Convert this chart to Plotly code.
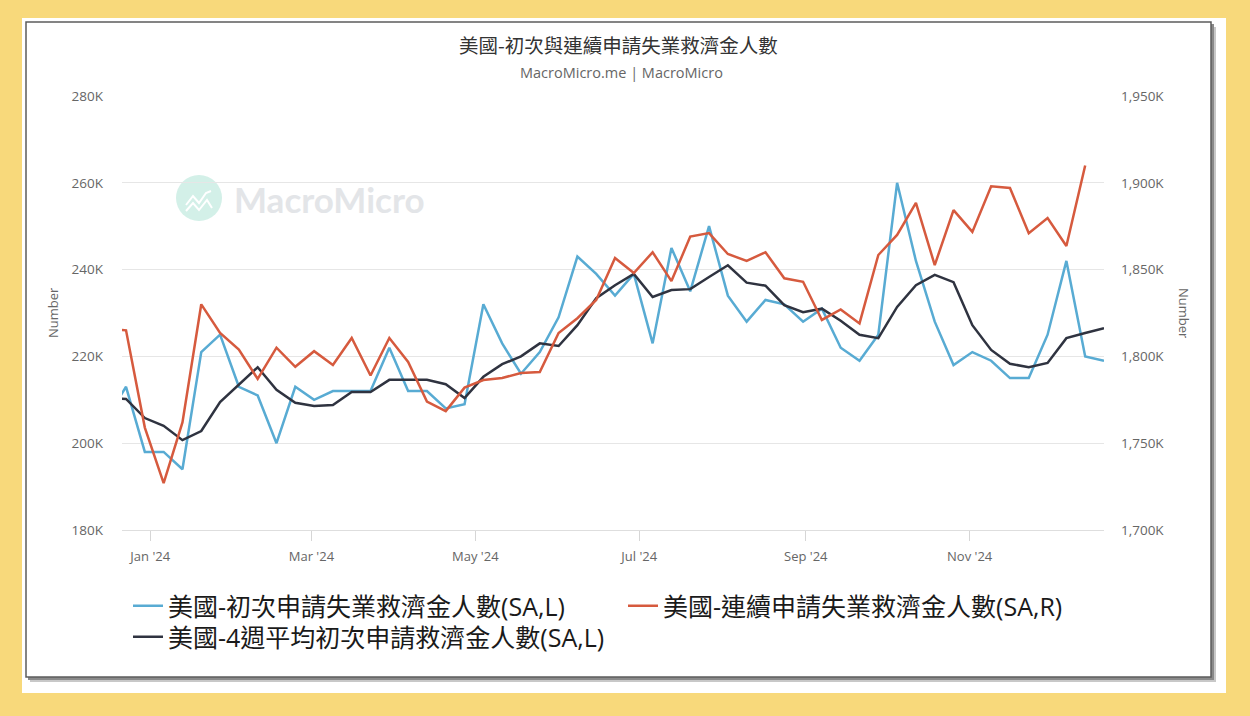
import plotly.graph_objects as go

# ---------------- data ----------------
dates_ic = [
    "2023-12-16", "2023-12-23", "2023-12-30", "2024-01-06", "2024-01-13", "2024-01-20",
    "2024-01-27", "2024-02-03", "2024-02-10", "2024-02-17", "2024-02-24", "2024-03-02",
    "2024-03-09", "2024-03-16", "2024-03-23", "2024-03-30", "2024-04-06", "2024-04-13",
    "2024-04-20", "2024-04-27", "2024-05-04", "2024-05-11", "2024-05-18", "2024-05-25",
    "2024-06-01", "2024-06-08", "2024-06-15", "2024-06-22", "2024-06-29", "2024-07-06",
    "2024-07-13", "2024-07-20", "2024-07-27", "2024-08-03", "2024-08-10", "2024-08-17",
    "2024-08-24", "2024-08-31", "2024-09-07", "2024-09-14", "2024-09-21", "2024-09-28",
    "2024-10-05", "2024-10-12", "2024-10-19", "2024-10-26", "2024-11-02", "2024-11-09",
    "2024-11-16", "2024-11-23", "2024-11-30", "2024-12-07", "2024-12-14", "2024-12-21",
]
dates_cc = dates_ic[:-1]

initial_claims = [  # thousands, left axis
    206, 213, 198, 198, 194, 221, 225, 213, 211, 200, 213, 210,
    212, 212, 212, 222, 212, 212, 208, 209, 232, 223, 216, 221,
    229, 243, 239, 234, 239, 223, 245, 235, 250, 234, 228, 233,
    232, 228, 231, 222, 219, 225, 260, 242, 228, 218, 221, 219,
    215, 215, 225, 242, 220, 219,
]
avg4w_claims = [  # thousands, left axis
    210.5, 210.2, 205.8, 204.0, 200.7, 202.8, 209.5, 213.4, 217.5, 212.3, 209.3, 208.6,
    208.8, 211.8, 211.8, 214.6, 214.6, 214.6, 213.6, 210.4, 215.3, 218.2, 220.0, 223.0,
    222.4, 227.2, 233.4, 236.4, 239.0, 233.7, 235.3, 235.5, 238.3, 241.0, 237.0, 236.3,
    231.8, 230.2, 231.0, 228.2, 225.0, 224.2, 231.4, 236.4, 238.8, 237.1, 227.2, 221.5,
    218.3, 217.5, 218.5, 224.2, 225.4, 226.5,
]
continuing_claims = [  # thousands, right axis
    1816, 1815, 1759, 1727, 1762, 1830, 1813.5, 1804, 1787, 1805, 1794, 1803,
    1795, 1810.6, 1789, 1810.6, 1796.8, 1774, 1768.5, 1782, 1786.4, 1787.6, 1790.4, 1791,
    1813.5, 1822, 1832.5, 1856.7, 1848, 1860, 1843.4, 1869, 1871, 1859, 1855, 1860,
    1845, 1843, 1821, 1827, 1819, 1858.4, 1870, 1888.4, 1852.6, 1884.3, 1871.7, 1898,
    1897, 1871, 1879.7, 1863.6, 1910,
]

x_tickvals = ["2024-01-01", "2024-03-01", "2024-05-01", "2024-07-01", "2024-09-01", "2024-11-01"]
x_ticktext = ["Jan '24", "Mar '24", "May '24", "Jul '24", "Sep '24", "Nov '24"]
left_ticks = [180, 200, 220, 240, 260, 280]
left_ticktext = ["180K", "200K", "220K", "240K", "260K", "280K"]
right_ticks = [1700, 1750, 1800, 1850, 1900, 1950]
right_ticktext = ["1,700K", "1,750K", "1,800K", "1,850K", "1,900K", "1,950K"]

name_ic = "美國-初次申請失業救濟金人數(SA,L)"
name_cc = "美國-連續申請失業救濟金人數(SA,R)"
name_avg = "美國-4週平均初次申請救濟金人數(SA,L)"
title_text = "美國-初次與連續申請失業救濟金人數"
subtitle_text = "MacroMicro.me | MacroMicro"

# ---------------- layout helpers ----------------
W, H = 1250, 716
PL, PR, PT, PB = 122, 1104, 96, 530


def px(x):
    return (x - PL) / (PR - PL)


def py(y):
    return (PB - y) / (PB - PT)


BLUE = "#58ABD3"
RED = "#D65A3E"
DARK = "#2F3340"
FONT = "Open Sans, Noto Sans CJK TC, sans-serif"
CJK = "Noto Sans CJK TC, Open Sans, sans-serif"

fig = go.Figure()
fig.add_trace(go.Scatter(x=dates_ic, y=initial_claims, name=name_ic, mode="lines",
                         line=dict(color=BLUE, width=2.5), legend="legend"))
fig.add_trace(go.Scatter(x=dates_cc, y=continuing_claims, name=name_cc, mode="lines",
                         line=dict(color=RED, width=2.5), yaxis="y2", legend="legend2"))
fig.add_trace(go.Scatter(x=dates_ic, y=avg4w_claims, name=name_avg, mode="lines",
                         line=dict(color=DARK, width=2.5), legend="legend3"))

shapes = [
    dict(type="rect", xref="paper", yref="paper", x0=px(22), x1=px(1226), y0=py(693), y1=py(18),
         fillcolor="white", line=dict(width=0), layer="below"),
    dict(type="rect", xref="paper", yref="paper", x0=px(30), x1=px(1216), y0=py(682), y1=py(27),
         fillcolor="#c8c8c8", line=dict(width=0), layer="below"),
    dict(type="rect", xref="paper", yref="paper", x0=px(28), x1=px(1214), y0=py(680), y1=py(24),
         fillcolor="#8a8a8a", line=dict(width=0), layer="below"),
    dict(type="rect", xref="paper", yref="paper", x0=px(26), x1=px(1211), y0=py(677), y1=py(22),
         fillcolor="white", line=dict(color="#5c5c5c", width=1.5), layer="below"),
    # watermark logo
    dict(type="circle", xref="paper", yref="paper", x0=px(176), x1=px(222), y0=py(221), y1=py(175),
         fillcolor="#d3f0e8", line=dict(width=0), layer="below"),
    dict(type="path", xref="paper", yref="paper",
         path=f"M{px(186)},{py(205)} L{px(193)},{py(196)} L{px(199)},{py(203)} L{px(206)},{py(193)} L{px(211)},{py(191)}",
         line=dict(color="white", width=2), layer="below"),
    dict(type="path", xref="paper", yref="paper",
         path=f"M{px(186)},{py(211)} L{px(193)},{py(203)} L{px(199)},{py(210)} L{px(207)},{py(200)} L{px(212)},{py(208)}",
         line=dict(color="white", width=2), layer="below"),
]

annotations = [
    dict(text=title_text, x=px(618), y=py(44), xref="paper", yref="paper", showarrow=False,
         font=dict(family=CJK, size=19.5, color="#333333"), xanchor="center", yanchor="middle"),
    dict(text=subtitle_text, x=px(621), y=py(72), xref="paper", yref="paper", showarrow=False,
         font=dict(family=FONT, size=14.5, color="#666666"), xanchor="center", yanchor="middle"),
    dict(text="Number", x=px(53), y=py(313), xref="paper", yref="paper", showarrow=False,
         textangle=-90, font=dict(family=FONT, size=13, color="#666666"), xanchor="center", yanchor="middle"),
    dict(text="Number", x=px(1184), y=py(313), xref="paper", yref="paper", showarrow=False,
         textangle=90, font=dict(family=FONT, size=13, color="#666666"), xanchor="center", yanchor="middle"),
    dict(text="<b>MacroMicro</b>", x=px(232), y=py(199), xref="paper", yref="paper", showarrow=False,
         font=dict(family="Lato, Open Sans, sans-serif", size=35, color="#e3e5e8"),
         xanchor="left", yanchor="middle"),
]

legend_common = dict(orientation="v", xanchor="left", yanchor="middle", bgcolor="rgba(0,0,0,0)",
                     font=dict(family=FONT, size=25, color="#1a1a1a"), itemwidth=30,
                     itemclick=False, itemdoubleclick=False)

fig.update_layout(
    width=W, height=H,
    margin=dict(l=PL, r=W - PR, t=PT, b=H - PB, pad=0),
    paper_bgcolor="#F8D97B",
    plot_bgcolor="rgba(0,0,0,0)",
    showlegend=True,
    shapes=shapes,
    annotations=annotations,
    legend=dict(x=px(128), y=py(606), **legend_common),
    legend2=dict(x=px(623), y=py(606), **legend_common),
    legend3=dict(x=px(128), y=py(637), **legend_common),
    xaxis=dict(type="date", range=["2023-12-21 12:00", "2024-12-21"],
               tickvals=x_tickvals, ticktext=x_ticktext, showgrid=False,
               ticks="outside", ticklen=10, tickcolor="#d6d6d6", showline=True,
               linecolor="#dedede", linewidth=1, ticklabelstandoff=4,
               tickfont=dict(family=FONT, size=13, color="#666666")),
    yaxis=dict(range=[180, 280], tickvals=left_ticks, ticktext=left_ticktext, showgrid=True,
               gridcolor="#e6e6e6", gridwidth=1, zeroline=False, showline=False,
               ticklabelstandoff=18, tickfont=dict(family=FONT, size=13.5, color="#666666")),
    yaxis2=dict(range=[1700, 1950], tickvals=right_ticks, ticktext=right_ticktext,
                overlaying="y", side="right", showgrid=False, zeroline=False, showline=False,
                ticklabelstandoff=16, tickfont=dict(family=FONT, size=13.5, color="#666666")),
    hovermode=False,
)

fig.write_html("out.html", config={"displayModeBar": False},
               post_script="document.body.style.margin='0';document.body.style.overflow='hidden';")
